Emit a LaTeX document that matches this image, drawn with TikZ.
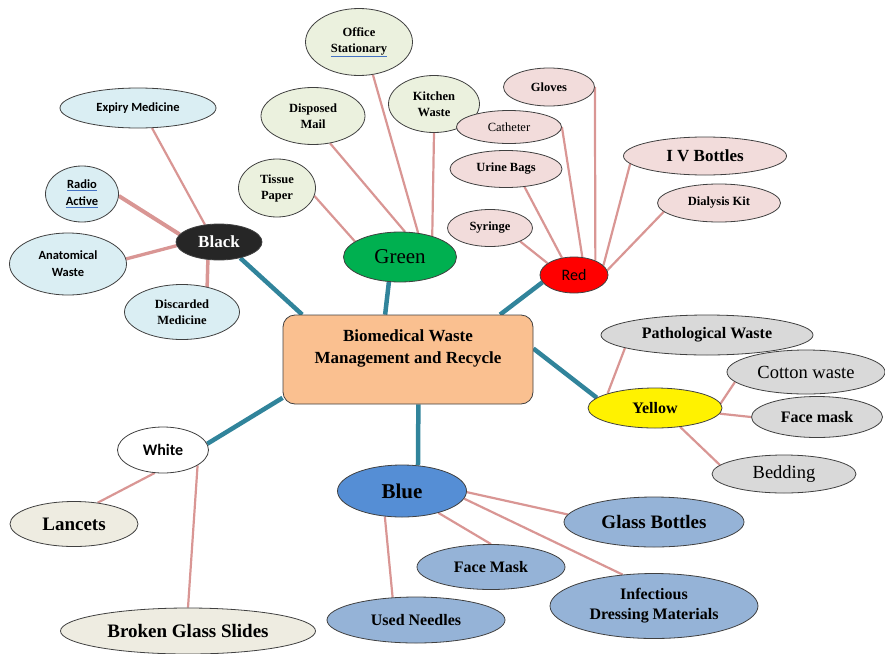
\documentclass[tikz,border=0pt]{standalone}
\usepackage{fontspec}
\setmainfont{Liberation Serif}
\newfontfamily\calib{Carlito}
\usetikzlibrary{shapes.geometric,backgrounds}
\definecolor{pinkln}{HTML}{D99694}
\definecolor{tealln}{HTML}{31849B}
\definecolor{fblack}{HTML}{DAEEF3}
\definecolor{fgreen}{HTML}{EBF1DE}
\definecolor{fred}{HTML}{F2DCDB}
\definecolor{fyellow}{HTML}{D9D9D9}
\definecolor{fblue}{HTML}{95B3D7}
\definecolor{fwhite}{HTML}{EEECE1}
\definecolor{hubfill}{HTML}{FAC090}
\definecolor{bluenode}{HTML}{558ED5}
\definecolor{greennode}{HTML}{00B050}
\definecolor{blacknode}{HTML}{262626}
\definecolor{ulblue}{HTML}{4472C4}
\newcommand\spellul[1]{\textcolor{ulblue}{\underline{\textcolor{black}{#1}}}}
\tikzset{
  leaf/.style={ellipse, draw=black!75, line width=0.8pt, inner sep=0pt, align=center},
  smallserif/.style={font=\fontsize{12.5}{16}\selectfont\bfseries},
  smallsans/.style={font=\fontsize{12.5}{17}\selectfont\calib\bfseries},
  bigserif/.style={font=\fontsize{16}{20}\selectfont\bfseries},
  hugeserif/.style={font=\fontsize{19}{22}\selectfont\bfseries},
  bleaf/.style={leaf, fill=fblack},
  gleaf/.style={leaf, fill=fgreen, smallserif},
  rleaf/.style={leaf, fill=fred, smallserif},
  yleaf/.style={leaf, fill=fyellow},
  uleaf/.style={leaf, fill=fblue},
  wleaf/.style={leaf, fill=fwhite, hugeserif},
  twig/.style={draw=pinkln, line width=2.2pt},
  trunk/.style={draw=tealln, line width=4.5pt},
  hubbox/.style={rectangle, rounded corners=12pt, draw=black!75, line width=0.8pt, fill=hubfill,
    minimum width=250pt, minimum height=89pt, align=center, inner sep=0pt,
    font=\fontsize{17}{22}\selectfont\bfseries}
}
\begin{document}
\begin{tikzpicture}[x=1pt,y=-1pt]
\useasboundingbox (0,0) rectangle (885,653);

% hub
\node[hubbox] (hub) at (408,359.5) {Biomedical Waste\\Management and Recycle\\[3pt]\mbox{}};

% Black group
\node[leaf, fill=blacknode, text=white, minimum width=86pt, minimum height=36pt,
  font=\fontsize{17}{20}\selectfont\bfseries] (black) at (219,242) {Black};
\node[bleaf, smallsans, minimum width=156pt, minimum height=40pt] (expiry) at (138,108) {Expiry Medicine};
\node[bleaf, smallsans, minimum width=73pt, minimum height=56pt] (radio) at (82,194) {\spellul{Radio}\\\spellul{Active}};
\node[bleaf, smallsans, minimum width=117pt, minimum height=62pt] (anat) at (68,264) {Anatomical\\Waste};
\node[bleaf, smallserif, minimum width=115pt, minimum height=55pt] (disc) at (182,312) {Discarded\\Medicine};

% Green group
\node[leaf, fill=greennode, minimum width=113pt, minimum height=50pt,
  font=\fontsize{21}{24}\selectfont] (green) at (400,257) {Green};
\node[gleaf, minimum width=107pt, minimum height=67pt] (office) at (359,42) {Office\\\spellul{Stationary}};
\node[gleaf, minimum width=104pt, minimum height=57pt] (mail) at (313,116) {Disposed\\Mail};
\node[gleaf, minimum width=91pt, minimum height=57pt] (kitchen) at (434,104) {Kitchen\\Waste};
\node[gleaf, minimum width=77pt, minimum height=58pt] (tissue) at (277,188) {Tissue\\Paper};

% Red group
\node[leaf, fill=red, minimum width=68pt, minimum height=36pt,
  font=\fontsize{16}{19}\selectfont\calib] (red) at (574,275) {Red};
\node[rleaf, minimum width=91pt, minimum height=38pt] (gloves) at (549,87) {Gloves};
\node[rleaf, minimum width=105pt, minimum height=33pt, font=\fontsize{12.5}{16}\selectfont] (cath) at (509,127) {Catheter};
\node[rleaf, minimum width=112pt, minimum height=37pt] (urine) at (506,169) {Urine Bags};
\node[rleaf, minimum width=85pt, minimum height=37pt] (syr) at (490,228) {Syringe};
\node[rleaf, minimum width=163pt, minimum height=38pt, font=\fontsize{17}{20}\selectfont\bfseries] (iv) at (705,156) {I V Bottles};
\node[rleaf, minimum width=123pt, minimum height=38pt] (dial) at (719,203) {Dialysis Kit};

% Yellow group
\node[leaf, fill=yellow, minimum width=134pt, minimum height=40pt, bigserif] (yel) at (655,408) {Yellow};
\node[yleaf, bigserif, minimum width=212pt, minimum height=40pt] (path) at (707,335) {Pathological Waste};
\node[yleaf, minimum width=158pt, minimum height=44pt, font=\fontsize{18.5}{22}\selectfont] (cotton) at (806,372) {Cotton waste};
\node[yleaf, bigserif, minimum width=131pt, minimum height=41pt] (fmask) at (817,417) {Face mask};
\node[yleaf, minimum width=144pt, minimum height=38pt, font=\fontsize{18.5}{22}\selectfont] (bed) at (784,474) {Bedding};

% White group
\node[leaf, fill=white, minimum width=91pt, minimum height=46pt,
  font=\fontsize{16}{19}\selectfont\calib\bfseries] (white) at (163,450) {White};
\node[wleaf, minimum width=128pt, minimum height=45pt] (lanc) at (74,524) {Lancets};
\node[wleaf, minimum width=255pt, minimum height=46pt] (broken) at (188,631) {Broken Glass Slides};

% Blue group
\node[leaf, fill=bluenode, minimum width=129pt, minimum height=52pt,
  font=\fontsize{21}{24}\selectfont\bfseries] (blue) at (402,491) {Blue};
\node[uleaf, hugeserif, minimum width=180pt, minimum height=50pt] (gbot) at (654,522) {Glass Bottles};
\node[uleaf, bigserif, minimum width=148pt, minimum height=45pt] (fm) at (491,567) {Face Mask};
\node[uleaf, bigserif, minimum width=208pt, minimum height=65pt, font=\fontsize{16}{20}\selectfont\bfseries] (inf) at (654,606) {Infectious\\Dressing Materials};
\node[uleaf, bigserif, minimum width=178pt, minimum height=46pt] (needle) at (416,620) {Used Needles};

\begin{scope}[on background layer]
  % trunks
  \draw[trunk] (black.-37) -- (hub.157.6);
  \draw[trunk] (green.246) -- (hub.117);
  \draw[trunk] (red.193) -- (hub.26.6);
  \draw[trunk] (hub.5.3) -- (yel.170);
  \draw[trunk] (white.8) -- (hub.197);
  \draw[trunk] (hub.-77) -- (blue.58);
  % black twigs
  \draw[twig] (expiry.-55) -- (black.129);
  \draw[twig, line width=4pt] (radio.-3) -- (black.169);
  \draw[twig, line width=3.3pt] (anat.5) -- (black.185);
  \draw[twig, line width=3.5pt] (disc.45) -- (black.238);
  % green twigs
  \draw[twig] (tissue.-12) -- (green.161);
  \draw[twig] (mail.-58) -- (green.79);
  \draw[twig] (office.-67) -- (green.53);
  \draw[twig] (kitchen.south) -- (green.33);
  % red twigs
  \draw[twig] (gloves.east) -- (red.34);
  \draw[twig] (cath.east) -- (red.65);
  \draw[twig] (urine.-44) -- (red.125);
  \draw[twig] (syr.-24) -- (red.156);
  \draw[twig] (iv.186) -- (red.18);
  \draw[twig] (dial.189) -- (red.8);
  % yellow twigs
  \draw[twig] (path.189) -- (yel.163);
  \draw[twig] (cotton.188) -- (yel.4);
  \draw[twig] (yel.-5) -- (fmask.west);
  \draw[twig] (yel.-37) -- (bed.172);
  % white twigs
  \draw[twig] (white.-110) -- (lanc.42);
  \draw[twig] (white.-24) -- (broken.north);
  % blue twigs
  \draw[twig] (blue.-1) -- (gbot.175);
  \draw[twig] (blue.-31) -- (fm.north);
  \draw[twig] (blue.-7) -- (inf.135);
  \draw[twig] (blue.236) -- (needle.136);
\end{scope}
\end{tikzpicture}
\end{document}
